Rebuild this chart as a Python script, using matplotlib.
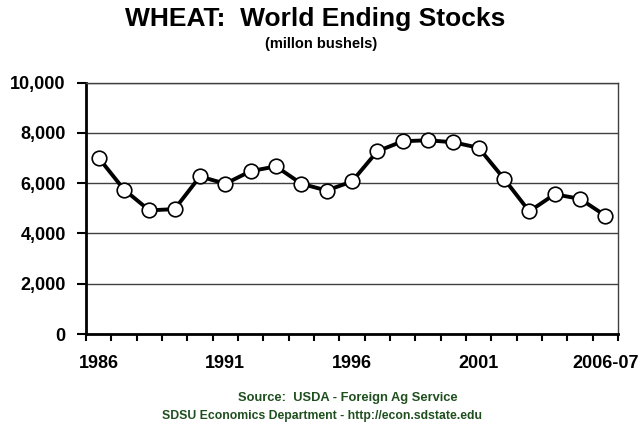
import matplotlib.pyplot as plt
import numpy as np

years = ['1986', '1987', '1988', '1989', '1990', '1991', '1992', '1993', '1994', '1995',
         '1996', '1997', '1998', '1999', '2000', '2001', '2002', '2003', '2004', '2005',
         '2006-07']
stocks = [7010, 5750, 4920, 4970, 6270, 5980, 6480, 6670, 5980, 5710,
          6070, 7270, 7670, 7710, 7630, 7410, 6180, 4880, 5560, 5380, 4710]
shown_labels = ['1986', '1991', '1996', '2001', '2006-07']

plt.rcParams['font.family'] = ['Liberation Sans', 'DejaVu Sans']
plt.rcParams['font.weight'] = 'bold'

fig = plt.figure(figsize=(6.43, 4.25), dpi=100)
ax = fig.add_axes([0.1337, 0.2141, 0.8274, 0.5913])

x = np.arange(len(years))
ax.plot(x, stocks, color='black', lw=2.8, marker='o', ms=10.5,
        markerfacecolor='white', markeredgecolor='black', markeredgewidth=1.2, zorder=3)

ax.set_xlim(-0.5, len(years) - 0.5)
ax.set_ylim(0, 10000)
ax.set_yticks(np.arange(0, 10001, 2000))
ax.set_yticklabels(['{:,}'.format(v) for v in range(0, 10001, 2000)], fontsize=13, fontweight='bold')
ax.yaxis.grid(True, color='#404040', lw=1.0)
ax.set_axisbelow(True)

# ticks between categories, labels on every 5th year
ax.set_xticks(np.arange(-0.5, len(years), 1.0))
ax.set_xticklabels([])
ax.set_xticks([x[years.index(l)] for l in shown_labels], minor=True)
ax.set_xticklabels(shown_labels, minor=True, fontsize=13, fontweight='bold')
ax.tick_params(axis='x', which='major', direction='out', length=5, width=1.5, color='black')
ax.tick_params(axis='x', which='minor', length=0, pad=15)
ax.tick_params(axis='y', direction='out', length=6.5, width=1.5, pad=8)

for side in ['left', 'bottom']:
    ax.spines[side].set_linewidth(2)
    ax.spines[side].set_color('black')
for side in ['top', 'right']:
    ax.spines[side].set_linewidth(1)
    ax.spines[side].set_color('#404040')

fig.text(0.49, 0.955, 'WHEAT:  World Ending Stocks', ha='center', va='center',
         fontsize=19, fontweight='bold')
fig.text(0.50, 0.897, '(millon bushels)', ha='center', va='center',
         fontsize=10.5, fontweight='bold')
# first source line sits centred over the plot area
fig.text(0.541, 0.063, 'Source:  USDA - Foreign Ag Service', ha='center', va='center',
         fontsize=9.3, fontweight='bold', color='#1f4f1f')
fig.text(0.5, 0.021, 'SDSU Economics Department - http://econ.sdstate.edu', ha='center',
         va='center', fontsize=8.8, fontweight='bold', color='#1f4f1f')

fig.savefig('out.png', dpi=100)
